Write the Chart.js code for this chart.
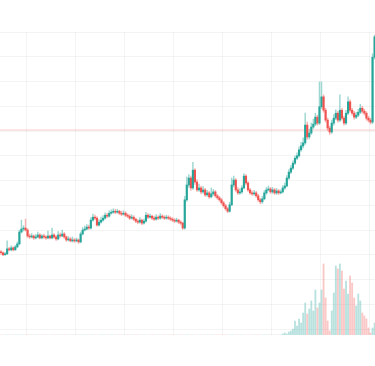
<!DOCTYPE html>
<html>
<head>
<meta charset="utf-8">
<script src="https://cdn.jsdelivr.net/npm/chart.js@4.4.1/dist/chart.umd.min.js"></script>
<style>
html, body { margin: 0; padding: 0; background: #fff; }
canvas { display: block; }
</style>
</head>
<body>
<canvas id="mychart" width="375" height="366"></canvas>
<script>
// hourly candles, one grid column per day
var firstOpen = 35.6;
var closes = [
    35.4,35.0,35.2,36.2,36.0,36.4,36.0,36.6,37.2,39.6,
    40.2,40.4,40.0,38.8,38.6,38.8,38.4,38.6,39.0,38.4,
    38.8,38.6,38.4,38.8,38.4,39.0,38.6,38.2,39.0,38.8,
    39.2,38.6,38.0,38.2,37.8,38.0,37.8,38.0,37.6,39.2,
    40.0,40.2,40.6,40.4,42.0,42.6,42.4,41.0,41.6,42.0,
    42.4,43.0,42.8,43.4,43.6,43.8,43.6,43.8,43.4,43.2,
    43.4,43.0,42.8,42.4,42.6,42.2,41.8,41.6,42.0,41.4,
    41.8,43.0,42.6,42.8,42.4,42.2,42.6,42.4,42.8,42.6,
    42.4,42.6,42.4,42.2,42.0,41.8,42.0,41.6,41.4,40.4,
    46.1,49.1,50.5,48.5,52.1,49.7,48.1,48.5,47.7,48.1,
    47.1,47.5,46.7,47.3,47.7,46.9,46.5,46.1,45.5,44.9,
    44.3,43.8,45.1,49.1,50.1,48.1,47.5,47.7,48.5,50.9,
    49.5,48.1,47.5,47.3,47.5,46.9,46.1,45.7,46.3,47.5,
    48.1,48.3,47.7,48.1,47.5,47.9,47.5,47.7,48.5,48.9,
    50.5,51.7,52.5,53.5,54.5,55.0,56.2,57.0,57.6,61.2,
    58.8,59.6,60.8,61.4,62.8,61.6,64.9,66.9,64.2,62.2,
    60.6,59.8,61.6,62.6,63.6,62.2,64.2,62.6,61.6,63.6,
    65.9,64.2,63.6,62.8,63.2,63.8,64.6,64.0,63.6,62.6,
    62.2,61.8,74.9,79.0
];
var highs = [
    35.9,35.6,35.5,37.8,36.5,36.8,36.6,36.9,37.6,40.0,
    42.0,40.9,42.2,40.3,39.2,39.3,39.0,39.1,39.6,39.3,
    39.1,39.2,38.9,39.8,39.0,40.4,39.3,38.9,39.7,39.4,
    40.0,39.5,38.8,38.7,38.5,38.6,38.3,38.4,38.2,39.6,
    40.5,40.8,41.1,41.0,42.5,43.2,43.0,42.7,42.1,42.6,
    42.9,43.5,43.4,43.9,44.1,44.3,44.2,44.2,44.0,43.8,
    43.9,43.7,43.3,43.1,43.1,42.9,42.4,42.1,42.5,42.2,
    42.2,43.6,43.3,43.2,43.0,42.8,43.1,42.9,43.3,43.1,
    42.9,43.0,42.9,42.7,42.5,42.3,42.4,42.2,41.9,41.6,
    46.8,50.7,51.2,50.9,53.7,52.4,50.2,49.3,48.9,48.8,
    48.4,48.0,47.8,48.5,48.2,48.0,47.2,46.8,46.4,45.8,
    45.2,44.6,45.6,50.5,50.9,50.4,48.6,48.3,49.0,51.4,
    51.2,49.8,48.4,47.9,48.0,47.8,47.2,46.4,46.8,48.0,
    48.6,48.9,48.6,48.6,48.4,48.4,48.2,48.1,49.0,49.5,
    51.0,52.2,53.0,54.0,55.0,55.6,56.8,57.7,58.6,63.6,
    61.8,60.4,61.6,62.4,63.6,63.2,69.9,69.9,67.3,64.6,
    62.6,61.0,62.2,63.3,64.3,64.0,67.3,64.6,63.0,64.2,
    66.9,66.3,64.6,64.0,63.8,64.4,65.4,65.0,64.4,63.9,
    63.0,62.6,75.6,79.4
];
var lows = [
    35.1,34.8,34.9,35.0,35.8,35.8,35.8,35.9,36.4,37.0,
    39.4,39.8,39.8,38.5,38.3,38.4,38.1,38.2,38.4,38.2,
    38.2,38.3,38.1,38.2,38.2,38.2,38.3,37.9,38.0,38.5,
    38.6,38.3,37.7,37.8,37.6,37.6,37.5,37.6,37.3,37.4,
    39.0,39.8,40.0,40.1,40.2,41.8,42.1,40.8,40.8,41.4,
    41.8,42.2,42.5,42.6,43.2,43.4,43.3,43.4,43.1,42.9,
    43.0,42.7,42.5,42.1,42.2,41.9,41.5,41.3,41.4,41.1,
    41.2,41.6,42.3,42.4,42.1,41.9,42.0,42.1,42.2,42.3,
    42.1,42.2,42.1,41.9,41.7,41.5,41.6,41.3,41.1,40.1,
    40.2,45.8,48.6,48.0,48.2,49.2,47.8,47.8,47.3,47.4,
    46.8,46.8,46.4,46.5,47.0,46.6,46.2,45.8,45.2,44.6,
    44.0,43.5,43.6,44.9,48.7,47.8,47.2,47.2,47.4,48.3,
    49.1,47.8,47.2,47.0,47.0,46.6,45.8,45.3,45.4,46.1,
    47.2,47.9,47.4,47.4,47.2,47.2,47.2,47.3,47.5,48.2,
    48.7,50.2,51.4,52.2,53.2,54.2,54.7,55.9,56.6,57.3,
    58.3,58.4,59.3,60.5,61.1,61.2,61.3,64.5,63.8,61.8,
    60.1,59.3,59.5,61.2,62.3,61.8,61.9,62.2,61.2,61.3,
    63.3,63.8,63.2,62.4,62.5,62.9,63.5,63.6,63.2,62.2,
    61.8,61.4,61.5,74.5
];
var volumes = [
    0,0,0,0,0,0,0,0,0,0,
    0,0,0,0,0,0,0,0,0,0,
    0,0,0,0,0,0,0,0,0,0,
    0,0,0,0,0,0,0,0,0,0,
    0,0,0,0,0,0,0,0,0,0,
    0,0,0,0,0,0,0,0,0,0,
    0,0,0,0,0,0,0,0,0,0,
    0,0,0,0,0,0,0,0,0,0,
    0,0,0,0,0,0,0,0,0,0,
    0,0,0,0,0,0,0,0,0,0,
    0,0,0,0,0,0,0,0,0,0,
    0,0,0,0,0,0,0,0,0,0,
    0,0,0,0,0,0,0,0,0,0,
    0,0,0,0,0,0,0,0,1,2,
    1,3,4,6,14,9,16,12,22,32,
    21,26,34,24,45,27,32,45,71,37,
    14,4,24,42,69,66,71,64,46,54,
    41,59,52,37,29,41,34,22,19,16,
    7,2,7,12
];
var priceLine = 60.2;
var dayTicks = [13.2, 37.2, 61.2, 85.2, 109.2, 133.2, 157.2, 181.2];
var priceTicks = [20, 25, 30, 35, 40, 45, 50, 55, 60, 65, 70, 75, 80];

var upColor = 'rgb(38,166,154)';
var downColor = 'rgb(239,83,80)';

var bodies = [], wicks = [], vols = [];
var bodyColors = [], wickColors = [], volColors = [];
for (var i = 0; i < closes.length; i++) {
    var open = i == 0 ? firstOpen : closes[i - 1];
    var up = closes[i] >= open;
    var x = i + 0.5;
    bodies.push({x: x, y: [open, closes[i]]});
    wicks.push({x: x, y: [lows[i], highs[i]]});
    vols.push({x: x, y: volumes[i]});
    bodyColors.push(up ? upColor : downColor);
    wickColors.push(up ? 'rgba(38,166,154,0.45)' : 'rgba(239,83,80,0.45)');
    volColors.push(up ? 'rgba(38,166,154,0.32)' : 'rgba(239,83,80,0.32)');
}

var gridColor = 'rgba(42,46,57,0.05)';

var config = {
    type: 'bar',
    data: {
        datasets: [{
            type: 'line',
            data: [{x: 0, y: priceLine}, {x: 183.7, y: priceLine}],
            borderColor: 'rgba(239,83,80,0.3)',
            borderWidth: 1,
            pointRadius: 0,
            yAxisID: 'y',
            order: 5
        }, {
            data: vols,
            backgroundColor: volColors,
            barThickness: 1.2,
            grouped: false,
            yAxisID: 'yv',
            order: 4
        }, {
            data: wicks,
            backgroundColor: wickColors,
            barThickness: 0.8,
            grouped: false,
            yAxisID: 'y',
            order: 2
        }, {
            data: bodies,
            backgroundColor: bodyColors,
            barThickness: 1.5,
            grouped: false,
            yAxisID: 'y',
            order: 1
        }]
    },
    options: {
        responsive: false,
        animation: false,
        layout: { padding: { top: 32, bottom: 31, left: 0, right: 0 } },
        plugins: { legend: { display: false }, tooltip: { enabled: false } },
        scales: {
            x: {
                type: 'linear',
                min: 0,
                max: 183.7,
                offset: false,
                grid: { color: gridColor, drawTicks: false, offset: false },
                border: { display: false },
                ticks: { display: false },
                afterBuildTicks: function(axis) {
                    axis.ticks = dayTicks.map(function(v) { return {value: v}; });
                }
            },
            y: {
                min: 18.8,
                max: 80,
                position: 'right',
                grid: { color: gridColor, drawTicks: false },
                border: { display: false },
                ticks: { display: false },
                afterBuildTicks: function(axis) {
                    axis.ticks = priceTicks.map(function(v) { return {value: v}; });
                }
            },
            yv: {
                min: 0,
                max: 303,
                display: false
            }
        }
    }
};

var ctx = document.getElementById('mychart').getContext('2d');
window.myChart = new Chart(ctx, config);
</script>
</body>
</html>
